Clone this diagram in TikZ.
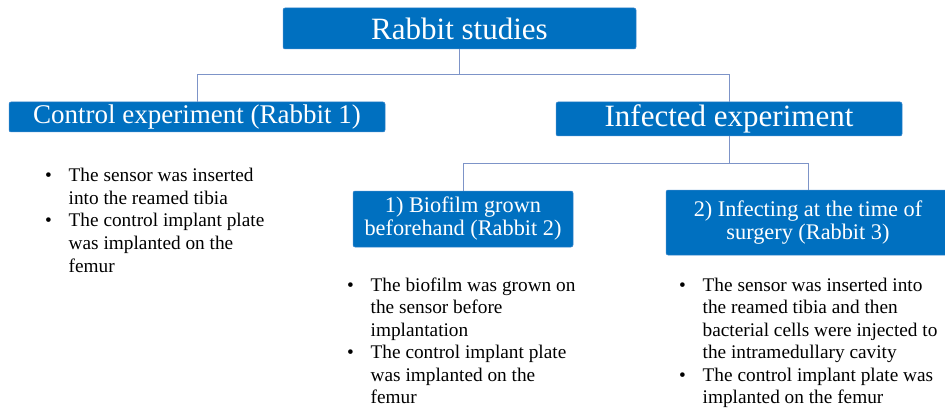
\documentclass[tikz,border=0pt]{standalone}
\usepackage{fontspec}
\setmainfont{Liberation Serif}
\definecolor{boxblue}{RGB}{0,112,192}
\definecolor{boxedge}{RGB}{60,135,205}
\definecolor{conncol}{RGB}{125,148,200}
\tikzset{
  bluebox/.style={rectangle, rounded corners=2pt, fill=boxblue, draw=boxedge, line width=0.5pt,
    text=white, inner sep=0pt, align=center},
  conn/.style={draw=conncol, line width=1pt},
  bulcol/.style={inner sep=0pt, anchor=base west, align=left}
}
\newcommand{\bulfont}{\fontsize{19.3}{22.5}\selectfont}
\begin{document}
\begin{tikzpicture}[x=1pt,y=-1pt]
\useasboundingbox (0,0) rectangle (945,409);
% boxes
\node[bluebox, minimum width=353pt, minimum height=41pt, font=\fontsize{31}{36}\selectfont] (title) at (459.5,28.5) {Rabbit studies};
\node[bluebox, minimum width=376pt, minimum height=30pt, font=\fontsize{27}{31}\selectfont] (control) at (197,117) {Control experiment (Rabbit 1)};
\node[bluebox, minimum width=346pt, minimum height=34pt, font=\fontsize{31}{36}\selectfont] (infected) at (729,119) {Infected experiment};
\node[bluebox, minimum width=220pt, minimum height=56pt, font=\fontsize{22.3}{23}\selectfont] (sub1) at (463,219) {1) Biofilm grown\\beforehand (Rabbit 2)};
\node[bluebox, minimum width=284pt, minimum height=65pt, font=\fontsize{22.3}{23}\selectfont] (sub2) at (808,222.5) {2) Infecting at the time of\\surgery (Rabbit 3)};
% connectors
\coordinate (b1) at (459.5,75);
\coordinate (b2) at (729,163);
\draw[conn] (title.south) -- (b1);
\draw[conn] (control.north) -- (control.north |- b1) -- (infected.north |- b1) -- (infected.north);
\draw[conn] (infected.south) -- (b2);
\draw[conn] (sub1.north) -- (sub1.north |- b2) -- (sub2.north |- b2) -- (sub2.north);
% bullet texts
\node[bulcol] (t1) at (45,182) {\bulfont\begin{tabular}[t]{@{}p{23.5pt}@{}l@{}}
\textbullet & The sensor was inserted\\
 & into the reamed tibia\\
\textbullet & The control implant plate\\
 & was implanted on the\\
 & femur
\end{tabular}};
\node[bulcol] (t2) at (347,291) {\bulfont\begin{tabular}[t]{@{}p{23.5pt}@{}l@{}}
\textbullet & The biofilm was grown on\\
 & the sensor before\\
 & implantation\\
\textbullet & The control implant plate\\
 & was implanted on the\\
 & femur
\end{tabular}};
\node[bulcol] (t3) at (679,291) {\bulfont\begin{tabular}[t]{@{}p{23.5pt}@{}l@{}}
\textbullet & The sensor was inserted into\\
 & the reamed tibia and then\\
 & bacterial cells were injected to\\
 & the intramedullary cavity\\
\textbullet & The control implant plate was\\
 & implanted on the femur
\end{tabular}};
\end{tikzpicture}
\end{document}
